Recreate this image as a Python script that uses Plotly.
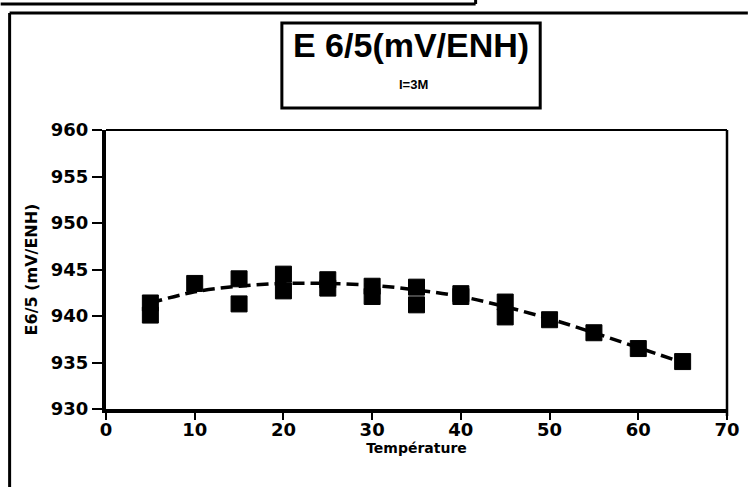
import plotly.graph_objects as go

# ---- data ----
temperature = [5, 5, 10, 15, 15, 20, 20, 25, 25, 30, 30, 35, 35, 40, 40, 45, 45, 50, 55, 60, 65]
e65_mv = [941.4, 940.1, 943.5, 944.0, 941.3, 944.5, 942.7, 943.9, 943.0, 943.2, 942.1,
          943.1, 941.2, 942.4, 942.1, 941.5, 939.9, 939.6, 938.2, 936.5, 935.1]

fit_temperature = [5, 10, 15, 20, 25, 30, 35, 40, 45, 50, 55, 60, 65]
fit_e65_mv = [941.4, 942.6, 943.2, 943.5, 943.5, 943.3, 942.8, 942.1, 941.0, 939.7, 938.2, 936.6, 935.0]

x_ticks = [0, 10, 20, 30, 40, 50, 60, 70]
y_ticks = [930, 935, 940, 945, 950, 955, 960]

title_text = "E 6/5(mV/ENH)"
subtitle_text = "I=3M"
x_title = "Température"
y_title = "E6/5 (mV/ENH)"

# ---- layout geometry (pixels) ----
W, H = 752, 487
L, R, T, B = 106, 21, 130, 78
pw, ph = W - L - R, H - T - B


def px(x):
    return (x - L) / pw


def py(y):
    return (H - B - y) / ph


fig = go.Figure()
fig.add_trace(go.Scatter(
    x=fit_temperature, y=fit_e65_mv, mode="lines", line_shape="spline",
    line=dict(color="black", width=3.5, dash="12px,6px"), hoverinfo="skip", showlegend=False,
))
fig.add_trace(go.Scatter(
    x=temperature, y=e65_mv, mode="markers",
    marker=dict(symbol="square", size=16, color="black", line=dict(color="black", width=1)),
    showlegend=False,
))

tick_font = dict(family="DejaVu Sans", size=18, color="black", weight="bold")

fig.update_xaxes(
    range=[0, 70], tickvals=x_ticks, ticks="outside", ticklen=7, tickwidth=2, tickcolor="black",
    showline=True, linecolor="black", linewidth=4, showgrid=False, zeroline=False,
    tickfont=tick_font, ticklabelstandoff=-6,
    title=dict(text=x_title, font=dict(family="DejaVu Sans", size=14, color="black", weight="bold"), standoff=4),
)
fig.update_yaxes(
    range=[930, 960], tickvals=y_ticks, ticks="outside", ticklen=10, tickwidth=2, tickcolor="black",
    showline=True, linecolor="black", linewidth=4, showgrid=False, zeroline=False,
    tickfont=tick_font,
    title=dict(text=y_title, font=dict(family="DejaVu Sans", size=16, color="black", weight="bold"), standoff=10),
)

shapes = [
    # plot frame (top and right)
    dict(type="line", xref="paper", yref="paper", x0=0, x1=1, y0=1, y1=1, line=dict(color="black", width=2)),
    dict(type="line", xref="paper", yref="paper", x0=1, x1=1, y0=py(416), y1=1, line=dict(color="black", width=2.5)),
    # outer frame
    dict(type="line", xref="paper", yref="paper", x0=px(9), x1=px(752), y0=py(13), y1=py(13), line=dict(color="black", width=3)),
    dict(type="line", xref="paper", yref="paper", x0=px(9), x1=px(9), y0=py(13), y1=py(487), line=dict(color="black", width=3)),
    # fragment of the box above
    dict(type="line", xref="paper", yref="paper", x0=px(0), x1=px(478), y0=py(4), y1=py(4), line=dict(color="black", width=3)),
    dict(type="line", xref="paper", yref="paper", x0=px(478), x1=px(478), y0=py(0), y1=py(4), line=dict(color="black", width=3)),
    # title box
    dict(type="rect", xref="paper", yref="paper", x0=px(283), x1=px(543), y0=py(108), y1=py(23),
         line=dict(color="black", width=3), fillcolor="white", layer="below"),
]

annotations = [
    dict(text=title_text, xref="paper", yref="paper", x=px(413), y=py(45), xanchor="center", yanchor="middle",
         showarrow=False, font=dict(family="Liberation Sans", size=34, color="black", weight="bold")),
    dict(text=subtitle_text, xref="paper", yref="paper", x=px(415), y=py(85), xanchor="center", yanchor="middle",
         showarrow=False, font=dict(family="Liberation Sans", size=13, color="black", weight="bold")),
]

fig.update_layout(
    width=W, height=H, margin=dict(l=L, r=R, t=T, b=B),
    paper_bgcolor="white", plot_bgcolor="white",
    shapes=shapes, annotations=annotations, showlegend=False,
)

fig.write_html("out.html")
